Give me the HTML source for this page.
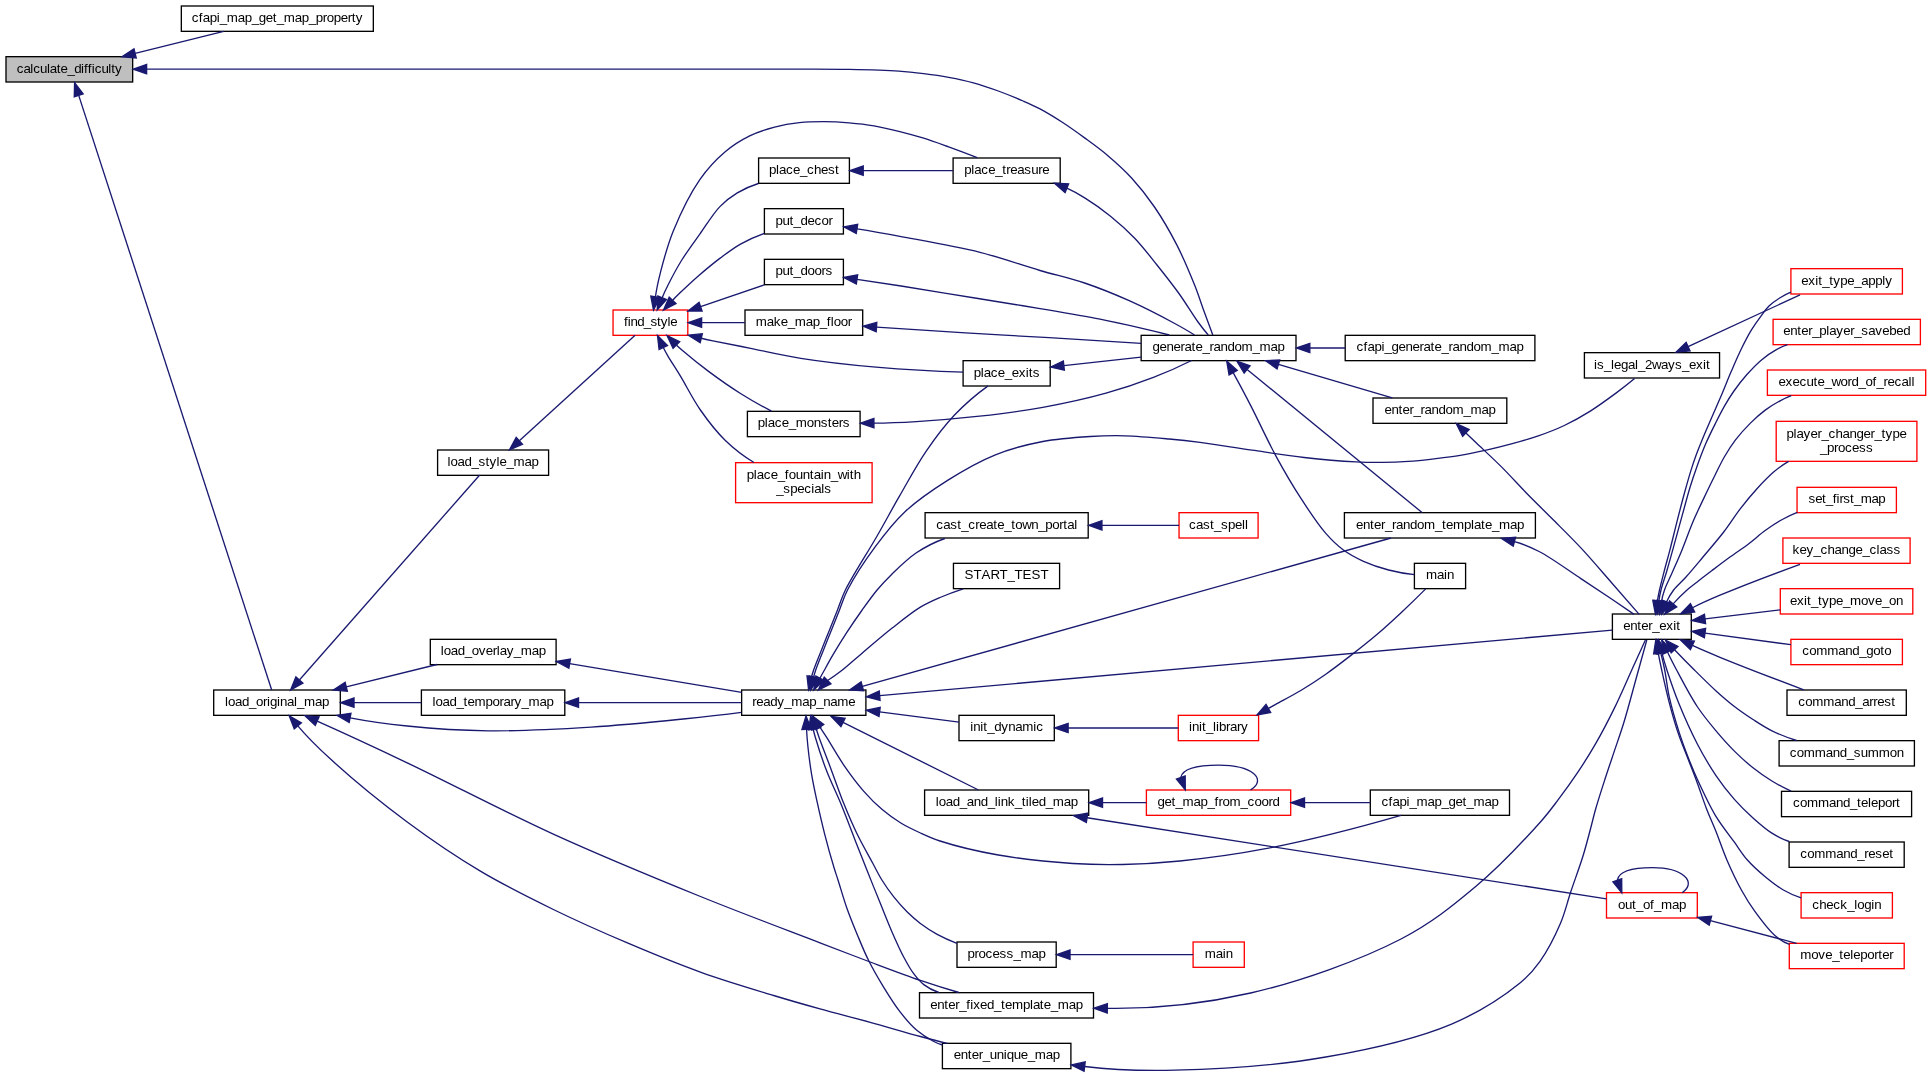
<!DOCTYPE html>
<html><head><meta charset="utf-8"><title>calculate_difficulty</title>
<style>html,body{margin:0;padding:0;background:#fff;overflow:hidden}svg{display:block;will-change:transform}text{font-family:"Liberation Sans",sans-serif;font-size:13.33px;fill:#000;text-anchor:start}</style></head><body>
<svg width="1931" height="1076" viewBox="0 0 1931 1076">
<rect width="1931" height="1076" fill="#fff"/>
<g stroke-width="1.33">
<rect x="6" y="56.67" width="126.67" height="25.33" fill="#bfbfbf" stroke="#000"/>
<rect x="181.33" y="6" width="192" height="25.33" fill="#fff" stroke="#000"/>
<rect x="213.7" y="690" width="126.6" height="25.33" fill="#fff" stroke="#000"/>
<rect x="437.6" y="450" width="111" height="25.33" fill="#fff" stroke="#000"/>
<rect x="430.3" y="639.33" width="125.8" height="25.33" fill="#fff" stroke="#000"/>
<rect x="421.4" y="690" width="143.4" height="25.33" fill="#fff" stroke="#000"/>
<rect x="613.05" y="310" width="74.75" height="25.33" fill="#fff" stroke="#ff0000"/>
<rect x="758.6" y="158" width="90.8" height="25.33" fill="#fff" stroke="#000"/>
<rect x="764.4" y="208.67" width="79" height="25.33" fill="#fff" stroke="#000"/>
<rect x="764.4" y="259.33" width="79" height="25.33" fill="#fff" stroke="#000"/>
<rect x="745" y="310" width="117.7" height="25.33" fill="#fff" stroke="#000"/>
<rect x="747.4" y="411.33" width="112.7" height="25.33" fill="#fff" stroke="#000"/>
<rect x="735.6" y="462.67" width="136.5" height="40" fill="#fff" stroke="#ff0000"/>
<rect x="741.65" y="690" width="124.25" height="25.33" fill="#fff" stroke="#000"/>
<rect x="953.1" y="158" width="107.1" height="25.33" fill="#fff" stroke="#000"/>
<rect x="963.1" y="360.67" width="87.1" height="25.33" fill="#fff" stroke="#000"/>
<rect x="925.1" y="512.67" width="163.1" height="25.33" fill="#fff" stroke="#000"/>
<rect x="953.45" y="563.33" width="106.15" height="25.33" fill="#fff" stroke="#000"/>
<rect x="959" y="715.33" width="95.3" height="25.33" fill="#fff" stroke="#000"/>
<rect x="924.6" y="790" width="164.1" height="25.33" fill="#fff" stroke="#000"/>
<rect x="957" y="942" width="99.2" height="25.33" fill="#fff" stroke="#000"/>
<rect x="919.5" y="992.67" width="174" height="25.33" fill="#fff" stroke="#000"/>
<rect x="942.4" y="1043.33" width="128.5" height="25.33" fill="#fff" stroke="#000"/>
<rect x="1141.15" y="335.33" width="154.85" height="25.33" fill="#fff" stroke="#000"/>
<rect x="1179.05" y="512.67" width="79.05" height="25.33" fill="#fff" stroke="#ff0000"/>
<rect x="1178.3" y="715.33" width="80.3" height="25.33" fill="#fff" stroke="#ff0000"/>
<rect x="1146.4" y="790" width="144.3" height="25.33" fill="#fff" stroke="#ff0000"/>
<rect x="1193.1" y="942" width="51.2" height="25.33" fill="#fff" stroke="#ff0000"/>
<rect x="1345.2" y="335.33" width="189.7" height="25.33" fill="#fff" stroke="#000"/>
<rect x="1373" y="398" width="133.8" height="25.33" fill="#fff" stroke="#000"/>
<rect x="1344.4" y="512.67" width="191" height="25.33" fill="#fff" stroke="#000"/>
<rect x="1414.4" y="563.33" width="51.2" height="25.33" fill="#fff" stroke="#000"/>
<rect x="1370.3" y="790" width="139.2" height="25.33" fill="#fff" stroke="#000"/>
<rect x="1584.4" y="352.67" width="135.15" height="25.33" fill="#fff" stroke="#000"/>
<rect x="1612.4" y="614" width="78.9" height="25.33" fill="#fff" stroke="#000"/>
<rect x="1606.5" y="892.67" width="90.8" height="25.33" fill="#fff" stroke="#ff0000"/>
<rect x="1790.9" y="268.67" width="111.5" height="25.33" fill="#fff" stroke="#ff0000"/>
<rect x="1773.1" y="319.33" width="147.3" height="25.33" fill="#fff" stroke="#ff0000"/>
<rect x="1767.4" y="370" width="158.3" height="25.33" fill="#fff" stroke="#ff0000"/>
<rect x="1776.2" y="421.33" width="140.7" height="40" fill="#fff" stroke="#ff0000"/>
<rect x="1797.05" y="487.33" width="99.35" height="25.33" fill="#fff" stroke="#ff0000"/>
<rect x="1782.9" y="538" width="127.2" height="25.33" fill="#fff" stroke="#ff0000"/>
<rect x="1780.3" y="588.67" width="132.5" height="25.33" fill="#fff" stroke="#ff0000"/>
<rect x="1790.9" y="639.33" width="111.5" height="25.33" fill="#fff" stroke="#ff0000"/>
<rect x="1787" y="690" width="119.3" height="25.33" fill="#fff" stroke="#000"/>
<rect x="1779.1" y="740.67" width="135.3" height="25.33" fill="#fff" stroke="#000"/>
<rect x="1781.5" y="791.33" width="130.1" height="25.33" fill="#fff" stroke="#000"/>
<rect x="1789.1" y="842" width="115.1" height="25.33" fill="#fff" stroke="#000"/>
<rect x="1801.1" y="892.67" width="91.3" height="25.33" fill="#fff" stroke="#ff0000"/>
<rect x="1789.3" y="943.33" width="114.9" height="25.33" fill="#fff" stroke="#ff0000"/>
</g>
<g opacity="0.999">
<text x="16.73 23.55 30.37 33.29 40.11 46.93 49.85 56.67 60.57 67.39 74.21 81.02 83.95 87.84 91.74 94.66 101.48 108.3 111.22 115.12" y="72.63">calculate_difficulty</text>
<text x="191.83 198.83 202.83 209.83 216.83 219.83 226.83 237.83 244.83 251.83 258.83 265.83 272.83 276.83 283.83 294.83 301.83 308.83 315.83 322.83 326.83 333.83 340.83 347.83 351.83 355.83" y="21.97">cfapi_map_get_map_property</text>
<text x="225 228 235 242 249 256 263 267 270 277 280 287 294 297 304 315 322" y="705.97">load_original_map</text>
<text x="447.6 450.6 457.6 464.6 471.6 478.6 485.6 489.6 496.6 499.6 506.6 513.6 524.6 531.6" y="465.97">load_style_map</text>
<text x="440.7 443.7 450.7 457.7 464.7 471.7 478.7 485.7 492.7 496.7 499.7 506.7 513.7 520.7 531.7 538.7" y="655.3">load_overlay_map</text>
<text x="432.6 435.6 442.6 449.6 456.6 463.6 467.6 474.6 485.6 492.6 499.6 503.6 510.6 514.6 521.6 528.6 539.6 546.6" y="705.97">load_temporary_map</text>
<text x="623.97 627.75 630.59 637.2 643.81 650.42 657.04 660.82 667.43 670.26" y="325.97">find_style</text>
<text x="769 776 779 786 793 800 807 814 821 828 835" y="173.97">place_chest</text>
<text x="775.4 782.4 789.4 793.4 800.4 807.4 814.4 821.4 828.4" y="224.63">put_decor</text>
<text x="775.4 782.4 789.4 793.4 800.4 807.4 814.4 821.4 825.4" y="275.3">put_doors</text>
<text x="755.85 766.85 773.85 780.85 787.85 794.85 805.85 812.85 819.85 826.85 830.85 833.85 840.85 847.85" y="325.97">make_map_floor</text>
<text x="757.75 764.75 767.75 774.75 781.75 788.75 795.75 806.75 813.75 820.75 827.75 831.75 838.75 842.75" y="427.3">place_monsters</text>
<text x="746.85 753.85 756.85 763.85 770.85 777.85 784.85 788.85 795.85 802.85 809.85 813.85 820.85 823.85 830.85 837.85 846.85 849.85 853.85" y="479.17">place_fountain_with</text>
<text x="776.35 783.35 790.35 797.35 804.35 811.35 814.35 821.35 824.35" y="492.87">_specials</text>
<text x="752.27 756.27 763.27 770.27 777.27 784.27 791.27 802.27 809.27 816.27 823.27 830.27 837.27 848.27" y="705.97">ready_map_name</text>
<text x="964.15 971.15 974.15 981.15 988.15 995.15 1002.15 1006.15 1010.15 1017.15 1024.15 1031.15 1038.15 1042.15" y="173.97">place_treasure</text>
<text x="973.65 980.65 983.65 990.65 997.65 1004.65 1011.65 1018.65 1025.65 1028.65 1032.65" y="376.63">place_exits</text>
<text x="936.15 943.15 950.15 957.15 961.15 968.15 975.15 979.15 986.15 993.15 997.15 1004.15 1011.15 1015.15 1022.15 1031.15 1038.15 1045.15 1052.15 1059.15 1063.15 1067.15 1074.15" y="528.63">cast_create_town_portal</text>
<text x="964.52 973.52 981.52 990.52 999.52 1007.52 1014.52 1022.52 1031.53 1040.53" y="579.3">START_TEST</text>
<text x="970.15 973.15 980.15 983.15 987.15 994.15 1001.15 1008.15 1015.15 1022.15 1033.15 1036.15" y="731.3">init_dynamic</text>
<text x="935.65 938.65 945.65 952.65 959.65 966.65 973.65 980.65 987.65 994.65 997.65 1000.65 1007.65 1014.65 1021.65 1025.65 1028.65 1031.65 1038.65 1045.65 1052.65 1063.65 1070.65" y="805.97">load_and_link_tiled_map</text>
<text x="967.6 974.6 978.6 985.6 992.6 999.6 1006.6 1013.6 1020.6 1031.6 1038.6" y="957.97">process_map</text>
<text x="930.3 937.27 944.25 948.23 955.2 959.19 966.16 970.14 973.13 980.1 987.08 994.05 1001.02 1005.01 1011.98 1022.94 1029.91 1032.9 1039.87 1043.85 1050.83 1057.8 1068.75 1075.73" y="1008.63">enter_fixed_template_map</text>
<text x="953.65 960.65 967.65 971.65 978.65 982.65 989.65 996.65 1003.65 1006.65 1013.65 1020.65 1027.65 1034.65 1045.65 1052.65" y="1059.3">enter_unique_map</text>
<text x="1152.58 1159.58 1166.58 1173.58 1180.58 1184.58 1191.58 1195.58 1202.58 1209.58 1213.58 1220.58 1227.58 1234.58 1241.58 1252.58 1259.58 1270.58 1277.58" y="351.3">generate_random_map</text>
<text x="1189.07 1196.07 1203.07 1210.07 1214.07 1221.07 1228.07 1235.07 1242.07 1245.07" y="528.63">cast_spell</text>
<text x="1188.95 1191.95 1198.95 1201.95 1205.95 1212.95 1215.95 1218.95 1225.95 1229.95 1236.95 1240.95" y="731.3">init_library</text>
<text x="1157.55 1164.55 1171.55 1175.55 1182.55 1193.55 1200.55 1207.55 1214.55 1218.55 1222.55 1229.55 1240.55 1247.55 1254.55 1261.55 1268.55 1272.55" y="805.97">get_map_from_coord</text>
<text x="1204.7 1215.7 1222.7 1225.7" y="957.97">main</text>
<text x="1356.55 1363.55 1367.55 1374.55 1381.55 1384.55 1391.55 1398.55 1405.55 1412.55 1419.55 1423.55 1430.55 1434.55 1441.55 1448.55 1452.55 1459.55 1466.55 1473.55 1480.55 1491.55 1498.55 1509.55 1516.55" y="351.3">cfapi_generate_random_map</text>
<text x="1384.4 1391.4 1398.4 1402.4 1409.4 1413.4 1420.4 1424.4 1431.4 1438.4 1445.4 1452.4 1463.4 1470.4 1481.4 1488.4" y="413.97">enter_random_map</text>
<text x="1355.9 1362.9 1369.9 1373.9 1380.9 1384.9 1391.9 1395.9 1402.9 1409.9 1416.9 1423.9 1434.9 1441.9 1445.9 1452.9 1463.9 1470.9 1473.9 1480.9 1484.9 1491.9 1498.9 1509.9 1516.9" y="528.63">enter_random_template_map</text>
<text x="1426 1437 1444 1447" y="579.3">main</text>
<text x="1381.4 1388.4 1392.4 1399.4 1406.4 1409.4 1416.4 1427.4 1434.4 1441.4 1448.4 1455.4 1462.4 1466.4 1473.4 1484.4 1491.4" y="805.97">cfapi_map_get_map</text>
<text x="1593.97 1596.97 1603.97 1610.97 1613.97 1620.97 1627.97 1634.97 1637.97 1644.97 1651.97 1660.97 1667.97 1674.97 1681.97 1688.97 1695.97 1702.97 1705.97" y="368.63">is_legal_2ways_exit</text>
<text x="1623.35 1630.35 1637.35 1641.35 1648.35 1652.35 1659.35 1666.35 1673.35 1676.35" y="629.97">enter_exit</text>
<text x="1617.9 1624.9 1631.9 1635.9 1642.9 1649.9 1653.9 1660.9 1671.9 1678.9" y="908.63">out_of_map</text>
<text x="1801.15 1808.15 1815.15 1818.15 1822.15 1829.15 1833.15 1840.15 1847.15 1854.15 1861.15 1868.15 1875.15 1882.15 1885.15" y="284.63">exit_type_apply</text>
<text x="1783.25 1790.25 1797.25 1801.25 1808.25 1812.25 1819.25 1826.25 1829.25 1836.25 1843.25 1850.25 1854.25 1861.25 1868.25 1875.25 1882.25 1889.25 1896.25 1903.25" y="335.3">enter_player_savebed</text>
<text x="1778.55 1785.55 1792.55 1799.55 1806.55 1813.55 1817.55 1824.55 1831.55 1840.55 1847.55 1851.55 1858.55 1865.55 1872.55 1876.55 1883.55 1887.55 1894.55 1901.55 1908.55 1911.55" y="385.97">execute_word_of_recall</text>
<text x="1786.55 1793.55 1796.55 1803.55 1810.55 1817.55 1821.55 1828.55 1835.55 1842.55 1849.55 1856.55 1863.55 1870.55 1874.55 1881.55 1885.55 1892.55 1899.55" y="437.83">player_changer_type</text>
<text x="1820.05 1827.05 1834.05 1838.05 1845.05 1852.05 1859.05 1866.05" y="451.53">_process</text>
<text x="1808.38 1815.17 1821.97 1825.85 1832.65 1836.53 1839.44 1843.33 1850.12 1854.01 1860.8 1871.48 1878.28" y="503.3">set_first_map</text>
<text x="1792.5 1799.5 1806.5 1813.5 1820.5 1827.5 1834.5 1841.5 1848.5 1855.5 1862.5 1869.5 1876.5 1879.5 1886.5 1893.5" y="553.97">key_change_class</text>
<text x="1790.05 1797.05 1804.05 1807.05 1811.05 1818.05 1822.05 1829.05 1836.05 1843.05 1850.05 1861.05 1868.05 1875.05 1882.05 1889.05 1896.05" y="604.63">exit_type_move_on</text>
<text x="1802.15 1809.15 1816.15 1827.15 1838.15 1845.15 1852.15 1859.15 1866.15 1873.15 1880.15 1884.15" y="655.3">command_goto</text>
<text x="1798.15 1805.15 1812.15 1823.15 1834.15 1841.15 1848.15 1855.15 1862.15 1869.15 1873.15 1877.15 1884.15 1891.15" y="705.97">command_arrest</text>
<text x="1789.75 1796.75 1803.75 1814.75 1825.75 1832.75 1839.75 1846.75 1853.75 1860.75 1867.75 1878.75 1889.75 1896.75" y="756.63">command_summon</text>
<text x="1793.05 1800.05 1807.05 1818.05 1829.05 1836.05 1843.05 1850.05 1857.05 1861.05 1868.05 1871.05 1878.05 1885.05 1892.05 1896.05" y="807.3">command_teleport</text>
<text x="1800.15 1807.15 1814.15 1825.15 1836.15 1843.15 1850.15 1857.15 1864.15 1868.15 1875.15 1882.15 1889.15" y="857.97">command_reset</text>
<text x="1812.25 1819.25 1826.25 1833.25 1840.25 1847.25 1854.25 1857.25 1864.25 1871.25 1874.25" y="908.63">check_login</text>
<text x="1800.25 1811.25 1818.25 1825.25 1832.25 1839.25 1843.25 1850.25 1853.25 1860.25 1867.25 1874.25 1878.25 1882.25 1889.25" y="959.3">move_teleporter</text>
</g>
<g fill="none" stroke="#191970" stroke-width="1.33">
<path d="M135.13,53.44L223.7,31.33"/>
<path d="M146.63,69.2C227.52,69.22 311.98,69.22 400,69.2C495.78,69.18 626.93,69.11 700,69.1C742.06,69.09 771.95,69.02 799.4,69.1C818.81,69.16 832.53,69.07 849.1,69.4C865.69,69.73 885.18,70.18 898.9,71.1C908.61,71.75 915.44,72.57 923.7,73.6C932,74.63 940.34,75.77 948.6,77.3C956.9,78.84 965.18,80.54 973.4,82.8C981.75,85.09 990.06,87.98 998.3,91C1006.62,94.05 1015.66,97.77 1023.1,101C1029.31,103.7 1034.06,105.74 1040,108.9C1047.01,112.63 1054.95,117.53 1062.3,122.3C1069.82,127.18 1077.14,132.45 1084.6,137.9C1092.34,143.56 1100.26,149.22 1107.9,155.7C1115.94,162.53 1124.06,169.77 1131.6,178C1139.64,186.77 1147.26,196.42 1154.5,207C1162.4,218.54 1170.12,231.88 1176.8,244.9C1183.48,257.92 1189.75,272.99 1194.6,285.1C1198.5,294.83 1201.07,303.22 1204.2,311.8C1207.13,319.81 1209.99,327.55 1212.8,335"/>
<path d="M78.71,95.35L271.7,690"/>
<path d="M299.4,679.99L479.7,475"/>
<path d="M519.35,440.82L635.1,335.2"/>
<path d="M346.24,686.82L437,664.5"/>
<path d="M354.03,702.67L421.4,702.67"/>
<path d="M569.65,663.69L741.65,692.3"/>
<path d="M578.53,702.67L741.65,702.67"/>
<path d="M350.09,717.82C367.42,721.18 386.46,723.9 407.2,726C431.8,728.49 459.57,730.47 488.2,730.8C520.47,731.18 557.85,729.16 591.2,727.1C622.78,725.15 656.14,721.74 683.3,719C704.9,716.82 724.27,714.62 741.4,712.4"/>
<path d="M317.17,721.14C343.6,732.95 373.61,746.84 407.2,762.8C450.36,783.31 505.02,812.12 554.4,834.6C603.2,856.82 655.15,878.13 701.7,897C743.15,913.8 788.88,930.82 820,942.8C840.26,950.59 853.44,955.73 870.2,962C886.91,968.26 904.72,975.06 920.4,980.4C934.03,985.04 946.86,989.07 958.9,992.5"/>
<path d="M297.82,725.87C306.02,735.61 316.91,746.68 330.5,759.1C350.33,777.21 381.43,802.86 407.2,822C431.56,840.1 455.86,856.55 480.8,871.4C504.95,885.78 529.69,897.96 554.4,910C578.76,921.87 603.34,932.73 628,943.2C652.44,953.58 676.98,963.75 701.7,972.6C726.09,981.33 753.77,989.47 775.3,996C792.01,1001.07 804.65,1004.64 820,1008.9C836.23,1013.41 853.48,1017.7 870.2,1022.3C886.95,1026.9 906.25,1032.7 920.4,1036.5C930.7,1039.26 939.64,1041.53 947.2,1043.3"/>
<path d="M806.57,729.32C806.78,734.37 807.23,740.1 807.9,746.5C808.76,754.67 810.06,765.05 811.6,774.3C813.15,783.62 815.12,792.63 817.2,802.2C819.42,812.42 821.87,823.14 824.6,833.8C827.42,844.83 831.35,858.81 833.9,867.3C835.48,872.56 836.38,874.92 838,880C840.43,887.6 843.71,899.21 847,908.5C850.22,917.6 853.87,926.47 857.5,935.2C861.05,943.73 864.31,951.9 868.5,960.3C872.94,969.2 878.27,978.41 883.6,987.1C888.88,995.7 894.42,1004.68 900.3,1012.2C905.64,1019.03 911.17,1025.56 917.1,1030.6C922.4,1035.11 929.04,1039.01 933.8,1041.5C937.04,1043.2 939.91,1044.37 942.4,1045"/>
<path d="M813.23,729.08C813.55,730.9 814.24,733.6 815.3,737.2C817.48,744.58 822.26,759.55 826.5,770.6C830.81,781.85 836.27,792.6 841,804.1C845.94,816.11 850.9,829.51 855.5,841.2C859.62,851.68 863.21,860.74 867.3,871C871.68,881.99 876.66,894.42 881,905.1C884.85,914.58 888.17,923.16 892,931.9C895.74,940.45 899.76,949.57 903.7,957C907,963.23 910.09,968.88 913.7,973.7C916.85,977.91 919.8,981.53 923.8,984.6C928.07,987.88 933.07,990.51 938.8,992.5"/>
<path d="M816.24,728.79C816.79,730.76 817.72,733.56 819,737.2C821.43,744.09 826.29,756.44 830.2,766.9C834.58,778.6 839.3,792.46 844,804.1C848.25,814.62 852.24,823.99 857,833.8C861.85,843.8 868.33,855.05 872.9,863.5C876.31,869.81 878.54,874.58 881.9,880C885.4,885.65 889.4,891.39 893.6,896.7C897.77,901.99 902.38,907.22 907,911.8C911.33,916.1 915.54,919.83 920.4,923.5C925.56,927.39 931.25,931.15 937.2,934.4C943.39,937.78 949.95,940.75 956.9,943.3"/>
<path d="M819.92,727.07C821.58,729.55 823.78,732.92 826.5,737.2C831.13,744.48 838.59,757.65 845,766.9C850.99,775.54 857.15,783.77 863.6,791.1C869.58,797.9 875.78,804.15 882.2,809.6C888.2,814.69 894.45,819.12 900.8,823C906.86,826.7 912.98,829.54 919.4,832.5C926.03,835.56 931.25,838.16 940,841C954.36,845.65 977.55,851.34 998.3,855C1021.52,859.09 1050.52,862 1072.9,863.5C1091.11,864.72 1105.44,864.85 1122.6,864.5C1141.05,864.12 1159.01,863.14 1180,861C1205.74,858.37 1233.98,854.86 1265.6,848.7C1305.75,840.88 1350.89,829.75 1401,815.3"/>
<path d="M843.03,722.35L978.5,790"/>
<path d="M811.57,677.01C811.99,675.13 812.7,672.73 813.7,669.8C815.33,665.05 818.41,657.69 820.9,651.4C823.53,644.75 826.36,637.72 829.1,630.9C831.83,624.09 834.59,617.31 837.3,610.5C840.02,603.68 841.39,598.24 845.4,590C852.1,576.25 866.97,553.59 876.5,537C884.84,522.47 891.56,509.81 899.6,495.9C908,481.36 916.5,465.35 925.9,451.6C934.8,438.59 943.85,426.31 954.3,415.3C964.61,404.44 975.87,394.64 988.1,385.9"/>
<path d="M813.68,677.01C814.1,675.14 814.81,672.73 815.8,669.8C817.41,665.05 820.43,657.69 822.9,651.4C825.52,644.74 828.36,637.72 831.1,630.9C833.83,624.09 836.57,617.31 839.3,610.5C842.04,603.68 843.44,597.88 847.5,590C853.72,577.93 865.57,559.8 875.5,546.4C884.81,533.84 893.53,522.39 905,511.7C917.42,500.13 932.96,489.57 948,480.1C963.09,470.6 979.24,461.29 995.4,454.8C1010.87,448.59 1026.87,444.55 1042.8,441.5C1058.47,438.5 1075.59,437.42 1090.2,436.5C1102.7,435.72 1112.79,435.48 1125.1,435.8C1138.95,436.16 1155.83,437.78 1169.2,439C1180.4,440.02 1188.41,440.89 1200,442.4C1215.09,444.36 1234.65,447.68 1252,450.2C1269.35,452.72 1286.71,455.55 1304.1,457.5C1321.42,459.44 1341.71,461.15 1356.1,461.9C1366.27,462.43 1373.51,462.48 1382.2,462.4C1390.88,462.32 1399.54,462 1408.2,461.4C1416.88,460.8 1425.54,459.8 1434.2,458.8C1442.87,457.8 1451.56,456.83 1460.2,455.4C1468.89,453.96 1477.55,452.14 1486.2,450.2C1494.91,448.24 1503.64,446.08 1512.3,443.7C1521,441.31 1529.7,438.9 1538.3,435.9C1547.04,432.85 1555.76,429.55 1564.3,425.5C1573.1,421.32 1581.77,416.43 1590.3,411.1C1599.11,405.6 1608.46,398.7 1616.3,392.9C1623.01,387.94 1629.11,383.17 1634.6,378.6"/>
<path d="M819.96,678.23C821.02,676.23 822.37,673.75 824,670.8C826.43,666.39 829.78,660.2 833.2,654.4C837.16,647.68 841.83,640.09 846.5,632.9C851.34,625.46 856.62,617.75 861.8,610.5C866.83,603.46 871.95,596.19 877.1,590C881.72,584.45 885.58,580.26 891.1,574.9C898.15,568.06 907.31,558.92 916.4,552.8C925.24,546.85 934.71,542.08 944.8,538.5"/>
<path d="M827.57,680.45C831.83,677.84 836.44,674.63 841.4,670.8C847.65,665.97 854.29,659.74 861.8,653.4C870.97,645.66 882.44,635.72 892.5,627.8C901.81,620.47 911.34,612.7 920,607.4C926.99,603.12 933.01,600.53 940,597.5C947.37,594.3 955.1,591.4 963.2,588.8"/>
<path d="M862.33,686.4L1391,538"/>
<path d="M879.68,695.71L1612.4,630.1"/>
<path d="M879.62,711.9L959,722.1"/>
<path d="M873.93,423.12C886.7,423.05 900.85,422.54 916.4,421.6C935.39,420.45 958.56,418.56 979.6,416.2C1000.7,413.83 1021.81,411.21 1042.8,407.4C1063.95,403.56 1086.57,398.61 1106,393.2C1123.06,388.45 1138.58,383.13 1153.4,377.4C1166.95,372.16 1179.69,366.52 1191.6,360.5"/>
<path d="M1101.93,525.33L1179.05,525.33"/>
<path d="M1063.85,365.57L1141.15,357.2"/>
<path d="M701.28,338.25C704.04,338.91 707.91,339.76 712.9,340.8C721.87,342.67 737.14,345.62 750.6,348.3C766.14,351.39 782.32,355.38 800.8,358.3C823.28,361.85 849.98,364.83 876,367.1C903.93,369.53 932.97,371.2 963.1,372.1"/>
<path d="M662.2,297.65C663.56,294.27 665.42,290.22 667.8,285.5C671.27,278.6 676.34,268.83 681.5,260.5C687,251.62 693.67,242.79 700,233.9C706.46,224.82 712.97,213.79 719.9,206.6C725.51,200.78 730.96,196.73 737.3,192.9C743.77,188.99 750.81,185.86 758.4,183.5"/>
<path d="M655.41,296.81C656.47,289.43 658.2,281.09 660.6,271.8C663.71,259.77 667.49,245.06 673.3,230.9C680.06,214.41 690.27,193.3 700,179.3C707.77,168.13 716.1,159.38 724.9,151.9C732.77,145.21 741.17,139.99 749.7,135.8C757.76,131.85 766.22,129.31 774.6,127.1C782.79,124.94 791.09,123.52 799.4,122.6C807.66,121.69 816.01,121.57 824.3,121.6C832.58,121.63 840.84,122.1 849.1,122.8C857.4,123.5 865.73,124.39 874,125.8C882.33,127.22 890.64,129.24 898.9,131.3C907.2,133.37 915.47,135.62 923.7,138.2C932.03,140.81 940.03,143.8 948.6,146.9C957.82,150.24 967.35,153.8 977.2,157.6"/>
<path d="M672.63,300.29C674.41,298.38 676.8,295.99 679.8,293.1C684.6,288.49 692.25,281.27 698.9,275.5C705.79,269.53 713.33,263.28 720.5,257.9C727.19,252.88 733.34,248.14 740.5,244.1C747.94,239.9 755.9,236.3 764.4,233.3"/>
<path d="M700.61,306.68L764.4,284.8"/>
<path d="M701.63,322.67L745,322.67"/>
<path d="M676.39,344.96C677.77,346.38 679.91,348.33 682.8,350.8C688.37,355.56 698.86,364.16 707.9,370.9C717.94,378.39 729.62,386.66 740.5,393.5C750.82,399.99 761.15,405.85 771.5,411.1"/>
<path d="M663.31,347.49C664.37,349.7 665.87,352.47 667.8,355.8C670.86,361.08 675.69,368.29 680.3,375.9C686.26,385.74 692.9,399.25 700.4,410C707.85,420.67 715.99,431.34 725.1,440.2C733.91,448.77 743.55,456.2 754,462.5"/>
<path d="M856.97,228.96C869.58,230.93 884.29,233.47 901.1,236.6C923.63,240.79 955.64,246.2 980,252.3C1001.51,257.69 1021.45,265.09 1040,270.5C1055.94,275.15 1069.86,278.03 1084.6,283C1099.6,288.06 1114.47,294.11 1129.2,300.7C1144.21,307.42 1161.83,316.55 1173.8,323C1182.09,327.47 1188.99,331.47 1194.5,335"/>
<path d="M857,279.38C869.68,281.18 884.38,283.39 901.1,286C923.2,289.46 953.75,294.55 978,298.5C999.78,302.04 1019.51,305.12 1040,308.6C1060.18,312.03 1082.05,315.66 1100,319.2C1114.71,322.1 1127.72,325.08 1140,327.9C1150.54,330.32 1160.31,332.69 1169.3,335"/>
<path d="M876.5,327.11C906.63,329.18 936.29,331.11 965.5,332.9C993.8,334.63 1020.56,336 1049.1,337.7C1079.05,339.49 1109.73,341.39 1141.15,343.4"/>
<path d="M1066.86,188.19C1072.58,190.78 1078.66,194.09 1085.1,198.1C1092.94,202.98 1102.08,209.36 1110.2,215.9C1118.63,222.68 1126.99,230.14 1134.7,238.2C1142.61,246.47 1149.65,255.82 1157,265C1164.52,274.41 1172.34,284.3 1179.3,294C1185.97,303.3 1192.55,314.52 1198,322C1201.82,327.25 1205.25,331.58 1208.3,335"/>
<path d="M863.23,170.67L953.1,170.67"/>
<path d="M1309.83,348L1345.2,348"/>
<path d="M1278.39,364.46L1392.3,397.9"/>
<path d="M1247.12,369.44L1422,512.5"/>
<path d="M1233.15,372.66C1238.53,382.37 1244.34,393.28 1250.6,405.4C1258.3,420.31 1267.05,439.69 1275.7,455.6C1283.82,470.53 1292.15,484.85 1300.8,498.2C1308.88,510.68 1317.75,524.15 1325.8,533.4C1331.83,540.32 1337.03,545.31 1343.4,550C1349.62,554.57 1356.27,558.05 1363.5,561.3C1371.26,564.79 1380.09,567.78 1388.6,570C1397.06,572.2 1405.66,573.74 1414.4,574.6"/>
<path d="M1465.9,432.94C1468.65,435.59 1472.15,438.94 1476.4,443C1482.97,449.27 1493.23,458.64 1501.5,466.9C1509.97,475.36 1518.18,484.58 1526.6,493.2C1534.92,501.71 1543.03,509.57 1551.7,518.3C1561.08,527.74 1571.19,537.49 1580.9,547.9C1591.16,558.9 1601.66,571.35 1611.6,582.7C1621.06,593.5 1630.26,604.06 1639.2,614.4"/>
<path d="M1514.41,541.71C1521.82,543.56 1530.05,546.83 1539.1,551.5C1551.49,557.9 1568.06,570.17 1580.9,578.6C1591.94,585.85 1602.18,592.65 1611.6,599C1619.7,604.46 1627.2,609.6 1634.1,614.4"/>
<path d="M1268.35,708.45C1270.07,707.46 1272.51,706.07 1275.7,704.3C1281.57,701.03 1292.53,695.46 1300.8,690.5C1309.24,685.44 1317.55,679.97 1325.8,674.2C1334.26,668.29 1342.59,661.84 1350.9,655.4C1359.32,648.88 1367.73,642.32 1376,635.3C1384.47,628.1 1392.84,620.41 1401.1,612.7C1409.41,604.94 1417.61,597.01 1425.7,588.9"/>
<path d="M1068.13,728L1178.3,728"/>
<path d="M1102.53,802.67L1146.4,802.67"/>
<path d="M1304.53,802.67L1370.3,802.67"/>
<path d="M1087.07,817.76L1606.5,898.9"/>
<path d="M1710.39,920.68L1796.6,943.3"/>
<path d="M1070.03,954.67L1193.1,954.67"/>
<path d="M1107.33,1008.39C1155.16,1009.09 1202.92,1003.96 1250.6,993C1300.81,981.46 1360.61,959.96 1401,939C1431.59,923.13 1452.76,905.8 1476,886.3C1499.07,866.94 1525.36,838.85 1540,822.5C1548.41,813.11 1552.5,807.26 1558.6,799.2C1564.91,790.85 1571.14,782.26 1577.2,773.2C1583.55,763.7 1589.79,753.87 1595.8,743.4C1602.21,732.24 1608.37,720.39 1614.4,708.1C1620.8,695.06 1627.42,679.45 1633,667.2C1637.55,657.21 1641.68,648.14 1645.4,640"/>
<path d="M1084.63,1066.51C1110.95,1069.76 1141.07,1070.99 1175,1070.2C1218.9,1069.18 1278.2,1065.24 1325.8,1057C1369.81,1049.38 1416.29,1038.87 1451,1024.3C1478.36,1012.81 1504.47,995.63 1520,983C1529.41,975.35 1533.8,969.99 1540,961.3C1547.48,950.82 1555.14,935.76 1560.4,923.5C1565.02,912.73 1567.08,902.84 1570.7,892C1574.58,880.39 1579.58,867.07 1583,856C1585.88,846.68 1587.98,838.26 1590.2,830C1592.21,822.5 1593.59,816.22 1595.8,808.5C1598.42,799.37 1601.95,788.53 1605.1,778.8C1608.16,769.34 1611.3,760.2 1614.4,750.9C1617.5,741.6 1620.48,733.53 1623.7,723C1627.83,709.51 1632.65,691.07 1636.7,676.5C1640.29,663.6 1643.65,651.43 1646.8,640"/>
<path d="M1688.1,346.61L1800,294.9"/>
<path d="M1657.4,601.02C1657.88,597.88 1658.58,594.2 1659.5,590C1660.75,584.3 1662.78,576.62 1664.5,570C1666.21,563.43 1667.92,557.64 1669.8,550.4C1672.13,541.45 1674.77,530.19 1677.3,520.3C1679.77,510.66 1682.35,500.69 1684.8,491.8C1686.97,483.92 1689.17,476.08 1691.2,469.6C1692.8,464.49 1694.08,460.7 1695.8,456C1697.68,450.86 1699.74,445.74 1702.1,440C1704.88,433.23 1708.32,425.39 1711.5,418C1714.75,410.46 1718.12,402.92 1721.4,395.2C1724.76,387.29 1728.01,378.95 1731.4,371.1C1734.68,363.5 1737.95,355.84 1741.4,348.8C1744.6,342.26 1747.81,335.97 1751.3,330.2C1754.53,324.86 1758.28,319.63 1761.5,315.3C1764.12,311.78 1766.05,308.84 1769,306C1772.18,302.94 1776.33,300.07 1780.1,297.7C1783.64,295.48 1787.24,293.62 1790.9,292.1"/>
<path d="M1658.87,600.98C1659.26,597.79 1659.97,594.13 1661,590C1662.37,584.5 1664.84,577.71 1666.8,571C1669,563.5 1671.16,555.54 1673.5,547.1C1676.13,537.62 1679.02,526.96 1681.8,516.9C1684.58,506.86 1687.45,495.79 1690.2,486.8C1692.47,479.39 1694.42,473.6 1696.9,466.7C1699.58,459.24 1702.65,450.92 1705.8,443.6C1708.74,436.77 1711.95,430.42 1715.1,424.1C1718.12,418.03 1721.11,411.99 1724.3,406.4C1727.29,401.16 1730.08,396.51 1733.6,391.5C1737.46,385.99 1742.04,380.08 1746.7,374.8C1751.34,369.55 1756.35,364.19 1761.5,359.9C1766.28,355.92 1771.69,352.35 1776.4,349.7C1780.27,347.53 1783.97,345.86 1787.5,344.7"/>
<path d="M1661.6,601.04C1662.13,597.7 1663.1,594.02 1664.5,590C1666.29,584.88 1669.34,579.07 1672,573C1675.06,566.01 1678.46,558.5 1681.8,550.4C1685.63,541.12 1689.38,530.13 1693.6,520.3C1697.76,510.6 1702.97,500.04 1706.9,491.8C1709.93,485.45 1712.26,480.68 1715.1,475C1718.05,469.09 1720.91,462.83 1724.3,457C1727.71,451.13 1731.28,445.43 1735.5,439.9C1739.93,434.11 1745.28,428.2 1750.4,423.1C1755.2,418.33 1760.1,413.89 1765.2,410.1C1770.02,406.52 1775.41,403.34 1780.1,400.8C1784.03,398.67 1787.76,396.94 1791.3,395.6"/>
<path d="M1666.6,601.82C1668.34,597.81 1670.67,593.87 1673.6,590C1676.95,585.58 1681.62,581.87 1686,577C1691.3,571.12 1697.08,564.06 1703,557C1709.58,549.15 1717.31,540.31 1723.7,532C1729.72,524.18 1734.68,516 1740.4,508.6C1745.86,501.54 1751.47,494.77 1757.2,488.5C1762.65,482.55 1768.31,476.51 1773.9,471.8C1778.78,467.68 1783.68,464.22 1788.6,461.4"/>
<path d="M1673.14,603.89C1677.81,598.7 1682.43,594.07 1687,590C1691.04,586.4 1694.91,583.69 1699,580.5C1703.24,577.19 1707.3,574.07 1712,570.5C1717.5,566.32 1723.9,561.44 1730,557C1736.17,552.51 1742.78,548.23 1748.8,543.7C1754.6,539.33 1759.82,534.39 1765.5,530.3C1770.99,526.35 1776.76,522.57 1782.3,519.5C1787.35,516.7 1792.35,514.33 1797.3,512.4"/>
<path d="M1692.56,607.72C1699.23,604.27 1708.37,600.09 1720,595.2C1739.61,586.95 1766.28,576.65 1800,564.3"/>
<path d="M1705.03,618.9L1780.3,609.8"/>
<path d="M1705.01,633.09L1790.9,644.7"/>
<path d="M1692.39,645.42C1699.05,648.53 1708.25,652.49 1720,657.3C1740.32,665.61 1768.25,676.44 1803.8,689.8"/>
<path d="M1674.57,649.68C1681,656.47 1687.61,663.24 1694.4,670C1701.35,676.92 1708.82,684.37 1715.8,690.7C1722.12,696.43 1728.08,701.63 1734.4,706.5C1740.49,711.2 1746.74,715.44 1753,719.5C1759.11,723.46 1764.71,727.25 1771.5,730.6C1779.09,734.34 1787.46,737.64 1796.6,740.5"/>
<path d="M1667.51,652C1669.83,657 1672.86,663 1676.6,670C1681.99,680.09 1690.11,695.81 1697.2,706.5C1703.24,715.61 1709.45,723.01 1715.8,730.6C1721.86,737.84 1728.03,744.77 1734.4,751.1C1740.45,757.12 1746.65,762.75 1753,767.8C1759.04,772.6 1765.11,776.9 1771.5,780.8C1777.82,784.66 1784.35,788.09 1791.1,791.1"/>
<path d="M1661.93,652.93C1663.11,657.74 1664.77,663.43 1666.9,670C1669.88,679.2 1673.97,691.37 1678.6,702.8C1683.86,715.79 1690.65,731.1 1697.2,743.7C1703.12,755.08 1709.28,765.66 1715.8,775.3C1721.74,784.08 1727.96,792.07 1734.4,799.4C1740.39,806.21 1746.65,812.3 1753,818C1759.03,823.42 1765.17,828.88 1771.5,832.9C1777.26,836.55 1783.16,839.42 1789.2,841.5"/>
<path d="M1660.71,652.86C1662.09,657.89 1663.42,663.61 1664.7,670C1666.31,678 1667.19,687.73 1669.3,697.2C1671.67,707.82 1675.31,720.21 1678.6,730.6C1681.54,739.89 1684.69,748.38 1687.9,756.7C1690.9,764.47 1693.4,770.69 1697.2,779C1702.19,789.9 1709.14,805.14 1715.8,816.2C1721.64,825.9 1728.74,834.36 1734.4,842.2C1739.1,848.71 1742.45,854.39 1747.4,860C1752.57,865.86 1758.82,871.45 1764.9,876.5C1770.83,881.43 1777.1,886.35 1783.4,890C1789.19,893.36 1795.09,895.99 1801.1,897.9"/>
<path d="M1658.25,653.1C1659.12,657.82 1660.27,663.45 1661.7,670C1663.69,679.15 1666.46,692.01 1669.3,702.8C1672.1,713.47 1675.29,724.64 1678.6,734.4C1681.53,743.04 1684.8,750.46 1687.9,758.5C1691,766.56 1694.15,774.47 1697.2,782.7C1700.35,791.19 1703.29,800.41 1706.5,808.7C1709.5,816.46 1712.62,823.05 1715.8,831C1719.4,840.01 1722.73,850.34 1726.9,860C1731.22,870.01 1736.42,880.99 1741.4,890C1745.72,897.81 1749.51,904.05 1754.7,911.2C1760.57,919.29 1768.49,930.08 1775.2,935.8C1780.03,939.92 1784.8,942.76 1789.5,944.3"/>
<path d="M1250.6,789.9C1267.6,779.3 1252.1,765.1 1218.6,765.1C1197.1,765.1 1182.6,768.6 1180.8,777.4"/>
<path d="M1682.1,892.8C1697.5,882.2 1683.1,867.7 1652.5,867.7C1632,867.7 1618.7,871.3 1617.3,880.3"/>
</g>
<g fill="#191970" stroke="#191970" stroke-width="1.33">
<polygon points="122.2,56.67 134,48.91 136.26,57.97"/>
<polygon points="133.3,69.2 146.63,64.53 146.63,73.87"/>
<polygon points="74.6,82.67 83.16,93.91 74.27,96.79"/>
<polygon points="290.6,690 295.9,676.91 302.91,683.07"/>
<polygon points="509.5,449.8 516.2,437.37 522.49,444.27"/>
<polygon points="333.3,690 345.13,682.28 347.36,691.35"/>
<polygon points="340.7,702.67 354.03,698 354.03,707.34"/>
<polygon points="556.5,661.5 570.42,659.08 568.88,668.29"/>
<polygon points="565.2,702.67 578.53,698 578.53,707.34"/>
<polygon points="337,715.3 350.97,713.24 349.2,722.41"/>
<polygon points="305,715.7 319.08,716.88 315.26,725.4"/>
<polygon points="289.2,715.7 301.38,722.85 294.26,728.89"/>
<polygon points="806,716 811.24,729.12 801.91,729.52"/>
<polygon points="810.7,716 817.81,728.2 808.64,729.97"/>
<polygon points="812.5,716 820.72,727.49 811.75,730.1"/>
<polygon points="812.5,716 823.8,724.47 816.04,729.67"/>
<polygon points="831.1,716.4 845.11,718.18 840.94,726.53"/>
<polygon points="808.6,690 807.02,675.97 816.12,678.05"/>
<polygon points="810.7,690 809.13,675.97 818.23,678.06"/>
<polygon points="813.7,690 815.84,676.04 824.08,680.42"/>
<polygon points="818.3,690 824.22,677.2 830.92,683.7"/>
<polygon points="849.5,690 861.07,681.9 863.6,690.89"/>
<polygon points="866.4,696.9 879.26,691.06 880.09,700.36"/>
<polygon points="866.4,710.2 880.22,707.27 879.03,716.53"/>
<polygon points="860.6,423.2 873.9,418.45 873.96,427.79"/>
<polygon points="1088.6,525.33 1101.93,520.66 1101.93,530"/>
<polygon points="1050.6,367 1063.35,360.92 1064.36,370.21"/>
<polygon points="688.3,335.2 702.34,333.7 700.21,342.8"/>
<polygon points="657.2,310 657.87,295.89 666.53,299.4"/>
<polygon points="653.5,310 650.79,296.14 660.04,297.48"/>
<polygon points="663.5,310 669.22,297.09 676.03,303.48"/>
<polygon points="688,311 699.09,302.26 702.12,311.09"/>
<polygon points="688.3,322.67 701.63,318 701.63,327.34"/>
<polygon points="667,335.5 679.7,341.67 673.07,348.25"/>
<polygon points="657.5,335.5 667.52,345.46 659.11,349.53"/>
<polygon points="843.8,226.9 857.69,224.35 856.25,233.57"/>
<polygon points="843.8,277.5 857.65,274.75 856.34,284"/>
<polygon points="863.2,326.2 876.82,322.45 876.18,331.77"/>
<polygon points="1054.5,183.2 1068.6,183.86 1065.11,192.52"/>
<polygon points="849.9,170.67 863.23,166 863.23,175.34"/>
<polygon points="1296.5,348 1309.83,343.33 1309.83,352.67"/>
<polygon points="1265.6,360.7 1279.71,359.97 1277.07,368.94"/>
<polygon points="1236.8,361 1250.07,365.83 1244.16,373.05"/>
<polygon points="1226.7,361 1237.24,370.4 1229.07,374.92"/>
<polygon points="1456.3,423.7 1469.14,429.58 1462.67,436.31"/>
<polygon points="1501.5,538.4 1515.57,537.18 1513.25,546.23"/>
<polygon points="1256.8,715.1 1266.02,704.4 1270.68,712.49"/>
<polygon points="1054.8,728 1068.13,723.33 1068.13,732.67"/>
<polygon points="1089.2,802.67 1102.53,798 1102.53,807.34"/>
<polygon points="1291.2,802.67 1304.53,798 1304.53,807.34"/>
<polygon points="1073.9,815.7 1087.79,813.14 1086.35,822.37"/>
<polygon points="1697.5,917.3 1711.58,916.17 1709.21,925.2"/>
<polygon points="1056.7,954.67 1070.03,950 1070.03,959.34"/>
<polygon points="1094,1008.2 1107.4,1003.72 1107.26,1013.06"/>
<polygon points="1071.4,1064.9 1085.2,1061.88 1084.07,1071.15"/>
<polygon points="1676,352.2 1686.14,342.37 1690.06,350.85"/>
<polygon points="1655.4,614.2 1652.79,600.32 1662.02,601.72"/>
<polygon points="1657.2,614.2 1654.23,600.39 1663.5,601.56"/>
<polygon points="1659.5,614.2 1656.99,600.3 1666.22,601.78"/>
<polygon points="1661.7,614.2 1662.26,600.1 1670.94,603.53"/>
<polygon points="1664.7,614.2 1669.52,600.93 1676.75,606.84"/>
<polygon points="1680.7,613.8 1690.43,603.56 1694.69,611.88"/>
<polygon points="1691.8,620.5 1704.47,614.26 1705.59,623.54"/>
<polygon points="1691.8,631.3 1705.64,628.46 1704.38,637.71"/>
<polygon points="1680.3,639.8 1694.36,641.18 1690.42,649.65"/>
<polygon points="1665.4,640 1677.96,646.47 1671.18,652.89"/>
<polygon points="1661.7,640 1671.72,649.96 1663.31,654.03"/>
<polygon points="1658.7,640 1666.46,651.8 1657.4,654.06"/>
<polygon points="1657.2,640 1665.21,651.63 1656.2,654.09"/>
<polygon points="1655.8,640 1662.84,652.25 1653.65,653.96"/>
<polygon points="1185.3,789.9 1176.41,778.98 1185.19,775.82"/>
<polygon points="1621.8,892.8 1612.91,881.88 1621.69,878.72"/>
</g>
</svg></body></html>
